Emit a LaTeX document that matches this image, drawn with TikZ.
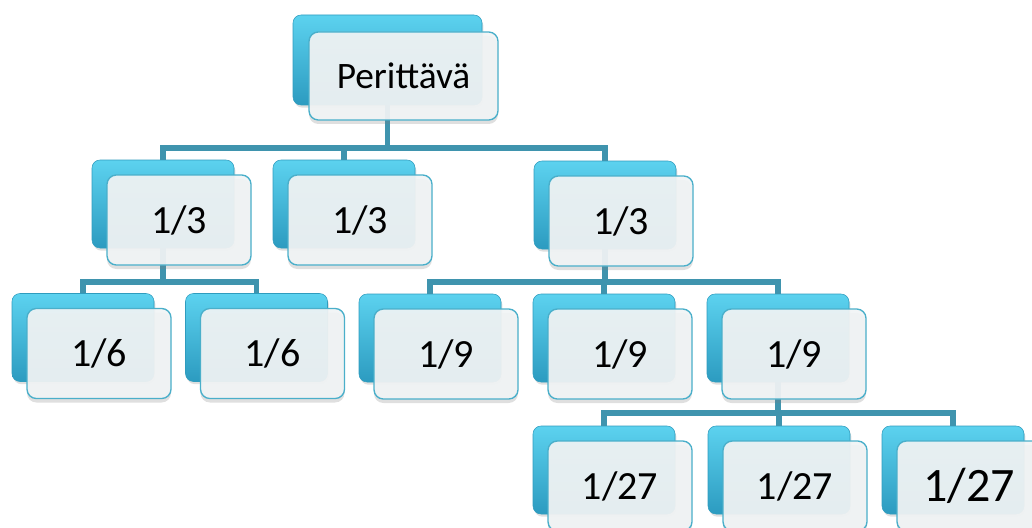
\documentclass[tikz,border=0pt]{standalone}
\usepackage{fontspec}
\setmainfont{Carlito}
\usetikzlibrary{shadows}

\definecolor{boxtop}{HTML}{5CD2EF}
\definecolor{boxmid}{HTML}{3BB6D8}
\definecolor{boxbottom}{HTML}{2C9BC0}
\definecolor{boxrim}{HTML}{2F9CBE}
\definecolor{cardfill}{HTML}{F1F4F5}
\definecolor{cardrim}{HTML}{4AAFCA}
\definecolor{linkcol}{HTML}{3F94AE}

\tikzstyle{backbox} = [rounded corners=6pt,top color=boxtop,middle color=boxmid,bottom color=boxbottom,draw=boxrim,
  inner sep=0pt,drop shadow={shadow xshift=1pt,shadow yshift=-2pt,opacity=0.25}]
\tikzstyle{frontbox} = [rounded corners=7pt,fill=cardfill,fill opacity=0.93,text opacity=1,
  draw=cardrim,line width=1pt,inner sep=0pt,
  drop shadow={shadow xshift=0pt,shadow yshift=-3pt,opacity=0.25}]
\tikzstyle{link} = [draw,line width=4pt,linkcol,line join=miter]

\begin{document}
\begin{tikzpicture}[x=0.75pt,y=-0.75pt]
      \useasboundingbox (0,0) rectangle (1032,528);
      \clip (0,0) rectangle (1032,528);
      %back boxes
      \foreach \name/\x/\y/\w/\h in {
        per/387.5/60/189/90,
        a/163/204/142/88, b/344/204/142/88, c/605/205/142/88,
        a1/83/337.5/142/88, a2/256.5/337.5/142/88,
        c1/430/338/142/88, c2/604/338/142/88, c3/778/338/142/88,
        d1/604/470/142/88, d2/779/470/142/88, d3/953/470/142/88}
      {
        \node[backbox, minimum width=\w*0.75pt, minimum height=\h*0.75pt] (\name) at (\x,\y) {};
      };
      %edges
      \foreach \parent/\child/\bary in {
        per/a/148, per/b/148, per/c/148,
        a/a1/282, a/a2/282,
        c/c1/282, c/c2/282, c/c3/282,
        c3/d1/413, c3/d2/413, c3/d3/413}
      {
        \draw[link] (\parent.south) -- (\parent.south |- 0,\bary) -| (\child.north);
      };
      %front boxes
      \foreach \name/\w/\h/\size/\label in {
        per/189/88/28/Perittävä,
        a/144/90/30/{1/3}, b/144/90/30/{1/3}, c/144/90/30/{1/3},
        a1/144/90/30/{1/6}, a2/144/90/30/{1/6},
        c1/144/90/30/{1/9}, c2/144/90/30/{1/9}, c3/144/90/30/{1/9},
        d1/144/90/30/{1/27}, d2/144/90/30/{1/27}, d3/144/90/36/{1/27}}
      {
        \node[frontbox, minimum width=\w*0.75pt, minimum height=\h*0.75pt,
          font=\fontsize{\size}{\size}\selectfont] (\name-txt) at ([xshift=12pt,yshift=-12pt]\name.center) {\label};
      };
    \end{tikzpicture}
\end{document}
